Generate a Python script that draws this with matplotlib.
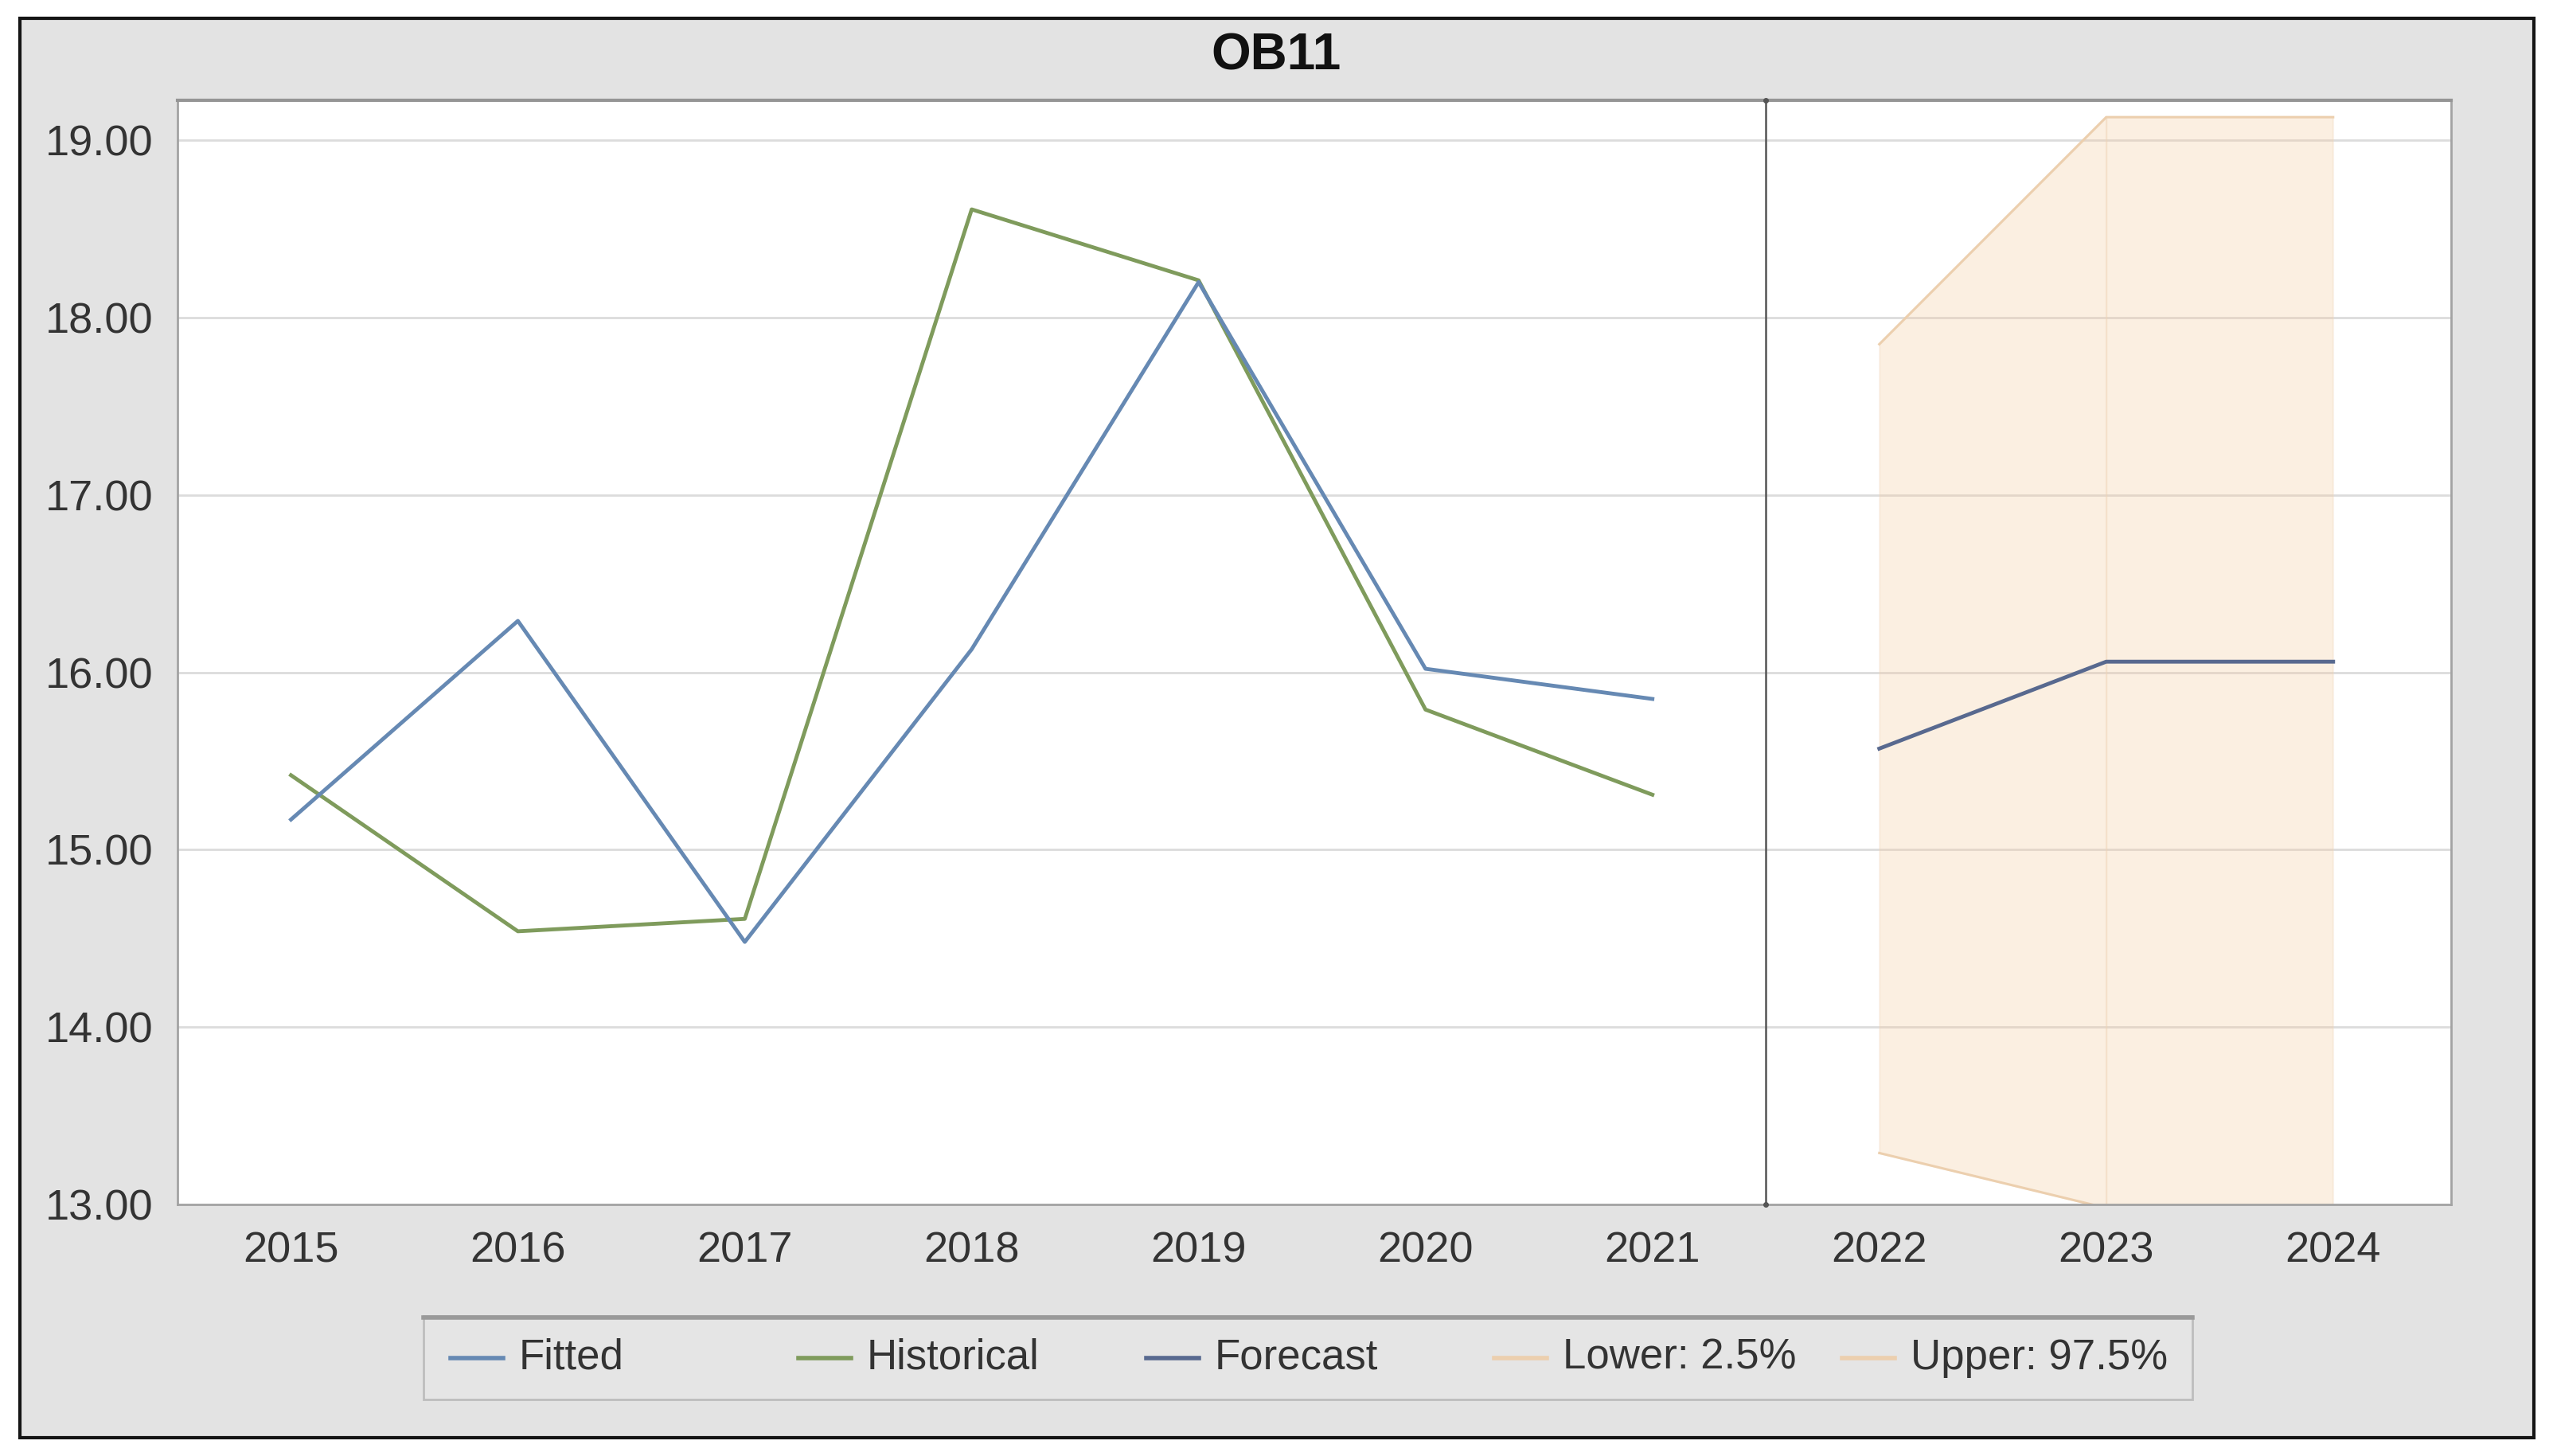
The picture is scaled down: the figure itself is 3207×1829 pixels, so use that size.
import matplotlib
matplotlib.use("Agg")
import matplotlib.pyplot as plt
from matplotlib.lines import Line2D
from matplotlib.patches import Rectangle

plt.rcParams['font.family'] = ['Liberation Sans', 'DejaVu Sans']

# data
title = "OB11"
hist_years = [2015, 2016, 2017, 2018, 2019, 2020, 2021]
fitted = [15.17, 16.29, 14.48, 16.13, 18.20, 16.02, 15.85]
historical = [15.42, 14.54, 14.61, 18.61, 18.21, 15.79, 15.31]
fc_years = [2022, 2023, 2024]
forecast = [15.57, 16.06, 16.06]
lower = [13.29, 12.98, 12.98]
upper = [17.85, 19.13, 19.13]
split_year = 2021.5
year_ticks = [2015, 2016, 2017, 2018, 2019, 2020, 2021, 2022, 2023, 2024]
y_ticks = [13, 14, 15, 16, 17, 18, 19]
legend_labels = ["Fitted", "Historical", "Forecast", "Lower: 2.5%", "Upper: 97.5%"]

W, H = 3207, 1829
fig = plt.figure(figsize=(W / 100, H / 100), dpi=100, facecolor='white')

# grey panel with black frame
fig.patches.append(Rectangle((25 / W, 1 - 1806 / H), (3183 - 25) / W, (1806 - 23) / H,
                             transform=fig.transFigure, facecolor='#e3e3e3',
                             edgecolor='#151515', lw=3, zorder=-5))

ax = fig.add_axes([223 / W, 1 - 1513 / H, (3079 - 223) / W, (1513 - 126) / H])
ax.set_facecolor('white')
ax.set_zorder(2)

band_col = '#f5ca9e'
band_edge = '#efd6bb'
for i in range(len(fc_years) - 1):
    ax.fill_between(fc_years[i:i + 2], lower[i:i + 2], upper[i:i + 2],
                    facecolor=band_col, alpha=0.3, edgecolor=band_edge, lw=1.5, zorder=1)
l_low, = ax.plot(fc_years, lower, color='#eccfae', lw=2.2, zorder=2)
l_up, = ax.plot(fc_years, upper, color='#eccfae', lw=2.2, zorder=2)

l_fit, = ax.plot(hist_years, fitted, color='#6689b3', lw=3.5, zorder=4)
l_hist, = ax.plot(hist_years, historical, color='#7f9b5c', lw=3.5, zorder=3)
l_fc, = ax.plot(fc_years, forecast, color='#58698f', lw=3.5, zorder=4)

ax.axvline(split_year, color='#555555', lw=1.8, zorder=5)
ax.plot([split_year, split_year], [0, 1], transform=ax.get_xaxis_transform(),
        ls='none', marker='o', ms=4, color='#555555', clip_on=False, zorder=6)

ax.set_xlim(2014.5, 2024.52)
ax.set_ylim(13, 19.225)
ax.set_xticks(year_ticks)
ax.set_xticklabels([str(y) for y in year_ticks])
ax.set_yticks(y_ticks)
ax.set_yticklabels(['{:.2f}'.format(v) for v in y_ticks])
ax.tick_params(axis='both', length=0, labelsize=39, colors='#333333')
ax.tick_params(axis='x', pad=24)
ax.tick_params(axis='y', pad=22)
ax.yaxis.grid(True, color='#dcdcdc', lw=2)
ax.set_axisbelow(True)
for s in ax.spines.values():
    s.set_color('#a3a3a3')
    s.set_linewidth(2)
ax.spines['top'].set_color('#959595')
ax.spines['top'].set_linewidth(3)

fig.text(0.5, 1 - 88 / H, title, ha='center', va='baseline',
         fontsize=46, fontweight='bold', color='#111111')

# legend box drawn by hand so the columns are evenly spaced
fig.patches.append(Rectangle((532 / W, 1 - 1758 / H), (2754 - 532) / W, (1758 - 1653) / H,
                             transform=fig.transFigure, facecolor='#e5e5e5',
                             edgecolor='#bdbdbd', lw=2, zorder=1))
fig.lines.append(Line2D([532 / W, 2754 / W], [1 - 1655 / H, 1 - 1655 / H],
                        transform=fig.transFigure, color='#9a9a9a', lw=4, zorder=2))
handles = [l_fit, l_hist, l_fc, l_low, l_up]
ly = 1 - 1706 / H
for i, (h, lab) in enumerate(zip(handles, legend_labels)):
    x0 = 566 + i * 437
    fig.lines.append(Line2D([x0 / W, (x0 + 66) / W], [ly, ly], transform=fig.transFigure,
                            color=h.get_color(), lw=4, zorder=3))
    fig.text((x0 + 86) / W, ly, lab, ha='left', va='center', fontsize=38, color='#333333')

fig.savefig('out.png', dpi=100)
